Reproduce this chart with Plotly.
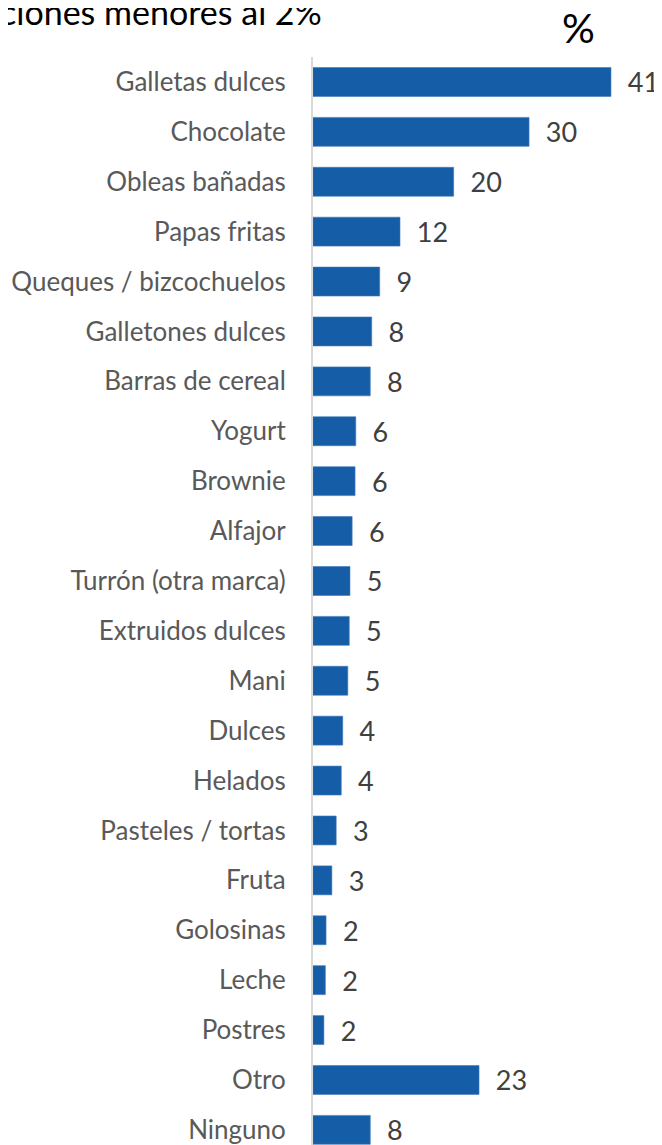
import plotly.graph_objects as go

categorias = ['Galletas dulces', 'Chocolate', 'Obleas bañadas', 'Papas fritas',
              'Queques / bizcochuelos', 'Galletones dulces', 'Barras de cereal',
              'Yogurt', 'Brownie', 'Alfajor', 'Turrón (otra marca)', 'Extruidos dulces',
              'Mani', 'Dulces', 'Helados', 'Pasteles / tortas', 'Fruta', 'Golosinas',
              'Leche', 'Postres', 'Otro', 'Ninguno']
valores = [41.1, 29.8, 19.4, 12.0, 9.2, 8.1, 7.9, 5.9, 5.8, 5.4, 5.1, 5.0,
           4.8, 4.1, 3.9, 3.2, 2.6, 1.8, 1.7, 1.5, 22.9, 7.9]
etiquetas = ['41', '30', '20', '12', '9', '8', '8', '6', '6', '6', '5', '5',
             '5', '4', '4', '3', '3', '2', '2', '2', '23', '8']

# la pagina agrega 8px de margen al body
OFF = 8
W, H = 662 - OFF, 1145 - OFF
ML, MT = 313 - OFF, 57 - OFF
px_por_unidad = 7.25
fila = 49.9

ancho_plot = W - ML
alto_plot = H - MT


def px_x(x):
    return (x - OFF - ML) / ancho_plot


def px_y(y):
    return 1 - (y - OFF - MT) / alto_plot


fig = go.Figure(go.Bar(
    x=valores, y=categorias, orientation='h',
    marker=dict(color='#165DA8', line=dict(color='#3F78BA', width=0.6)),
    text=['\u00a0\u00a0' + e for e in etiquetas],
    textposition='outside', cliponaxis=False, constraintext='none',
    textfont=dict(family='Lato', size=27, color='#404040'),
    hoverinfo='skip',
))

fig.update_layout(
    width=W, height=H,
    margin=dict(l=ML, r=0, t=MT, b=0, pad=0),
    paper_bgcolor='white', plot_bgcolor='white',
    bargap=0.42, showlegend=False,
    font=dict(family='Lato', color='#595959'),
)
fig.update_xaxes(range=[0, ancho_plot / px_por_unidad], visible=False, fixedrange=True)
fig.update_yaxes(
    range=[alto_plot / fila - 0.5, -0.5],
    showline=True, linecolor='#D9D9D9', linewidth=2,
    showgrid=False, zeroline=False, ticks='', ticklabelstandoff=20,
    tickfont=dict(family='Lato', size=26, color='#595959'),
)

fig.add_annotation(text='ciones menores al 2%', xref='paper', yref='paper',
                   x=px_x(-2), y=px_y(34),
                   xanchor='left', yanchor='bottom', showarrow=False,
                   font=dict(family='Lato', size=34, color='#000000'))
fig.add_annotation(text='%', xref='paper', yref='paper',
                   x=px_x(578), y=px_y(1),
                   xanchor='center', yanchor='top', showarrow=False,
                   font=dict(family='Lato', size=41, color='#000000'))

fig.write_html('out.html')
